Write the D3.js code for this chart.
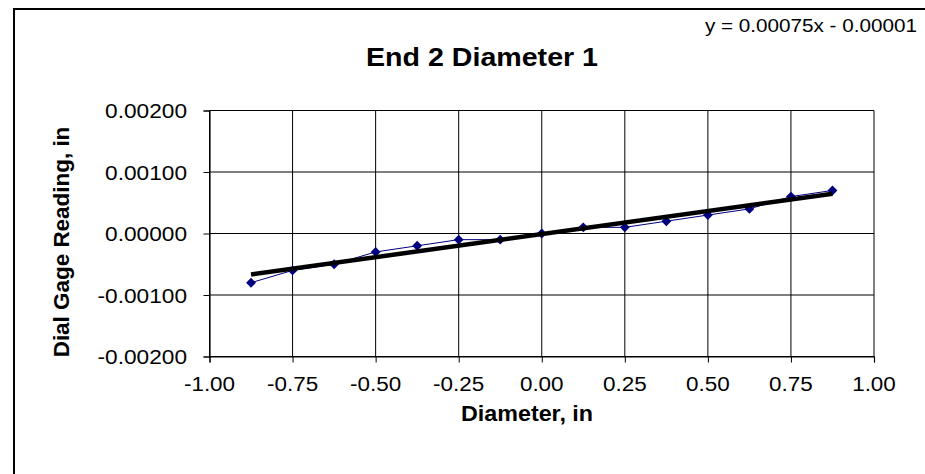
<!DOCTYPE html>
<html><head><meta charset="utf-8">
<script src="https://cdn.jsdelivr.net/npm/d3@7"></script>
<style>html,body{margin:0;padding:0;background:#fff;}svg{display:block;}</style>
</head><body>
<svg id="c" width="925" height="474"></svg>
<script>
const diameters = [-0.875,-0.75,-0.625,-0.5,-0.375,-0.25,-0.125,0,0.125,0.25,0.375,0.5,0.625,0.75,0.875];
const readings = [-0.0008,-0.0006,-0.0005,-0.0003,-0.0002,-0.0001,-0.0001,0,0.0001,0.0001,0.0002,0.0003,0.0004,0.0006,0.0007];
const trendSlope = 0.00075, trendIntercept = -0.00001;
const xTicks = [-1,-0.75,-0.5,-0.25,0,0.25,0.5,0.75,1];
const yTicks = [-0.002,-0.001,0,0.001,0.002];
const titleText = "End 2 Diameter 1";
const equationText = "y = 0.00075x - 0.00001";
const xTitle = "Diameter, in";
const yTitle = "Dial Gage Reading, in";

const svg = d3.select("#c");
const FONT = "'Liberation Sans', Arial, sans-serif";
const L = 209.5, R = 874, T = 110.5, B = 356.5;
const x = d3.scaleLinear().domain([-1,1]).range([L,R]);
const y = d3.scaleLinear().domain([-0.002,0.002]).range([B,T]);
const fmt = f => v => d3.format(f)(v).replace("\u2212","-");

svg.append("rect").attr("x",14).attr("y",9).attr("width",950).attr("height",500)
  .attr("fill","#fff").attr("stroke","#000").attr("stroke-width",2);

function txt(px,py,s,size,weight,anchor,sx,rot){
  const g = svg.append("g").attr("transform",`translate(${px},${py})`+(rot?` rotate(${rot})`:"")+` scale(${sx},1)`);
  g.append("text").text(s).attr("font-family",FONT).attr("font-size",size)
   .attr("font-weight",weight).attr("text-anchor",anchor).attr("fill","#000");
  return g;
}

// gridlines
svg.append("g").selectAll("line").data(xTicks).join("line")
  .attr("x1",d=>x(d)).attr("x2",d=>x(d)).attr("y1",T).attr("y2",B)
  .attr("stroke","#000").attr("stroke-width",1);
svg.append("g").selectAll("line").data(yTicks).join("line")
  .attr("x1",L).attr("x2",R).attr("y1",d=>y(d)).attr("y2",d=>y(d))
  .attr("stroke","#000").attr("stroke-width",1);

// axes
const gx = svg.append("g").attr("transform",`translate(0,${B})`)
  .call(d3.axisBottom(x).tickValues(xTicks).tickSize(6).tickFormat(""));
const gy = svg.append("g").attr("transform",`translate(${L},0)`)
  .call(d3.axisLeft(y).tickValues(yTicks).tickSize(6).tickFormat(""));
[gx,gy].forEach(g=>{g.select(".domain").attr("stroke","#000").attr("stroke-width",1.2);
  g.selectAll(".tick line").attr("stroke","#000");});

xTicks.forEach(t=>txt(x(t),391,fmt(".2f")(t),21,"normal","middle",1.07));
yTicks.forEach(t=>txt(187,y(t)+7.5,fmt(".5f")(t),21,"normal","end",1.08));

// data line + markers
const line = d3.line().x((d,i)=>x(diameters[i])).y(d=>y(d));
svg.append("path").datum(readings).attr("d",line).attr("fill","none")
  .attr("stroke","#000080").attr("stroke-width",1);
svg.append("g").selectAll("path").data(readings).join("path")
  .attr("d",d3.symbol(d3.symbolDiamond2,62))
  .attr("transform",(d,i)=>`translate(${x(diameters[i])},${y(d)})`)
  .attr("fill","#000080");

// trendline
const xr = d3.extent(diameters);
svg.append("line").attr("x1",x(xr[0])).attr("x2",x(xr[1]))
  .attr("y1",y(trendSlope*xr[0]+trendIntercept)).attr("y2",y(trendSlope*xr[1]+trendIntercept))
  .attr("stroke","#000").attr("stroke-width",4.5);

// titles
txt(482,66,titleText,26,"bold","middle",1.1);
txt(527,421,xTitle,22,"bold","middle",1.06);
txt(69,242,yTitle,22,"bold","middle",1.02,-90);
txt(917,32,equationText,18,"normal","end",1.15);
</script>
</body></html>
